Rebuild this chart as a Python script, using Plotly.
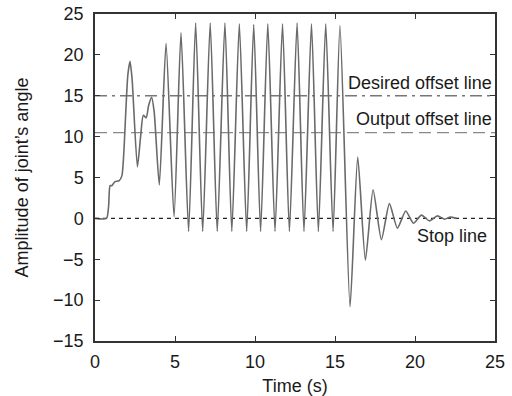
import plotly.graph_objects as go

# Signal (time in s, amplitude)
time_s = [0.0, 0.72, 0.85, 0.94, 1.05, 1.25, 1.5, 1.68, 1.8, 2.05, 2.19, 2.32, 2.65,
          2.85, 3.02, 3.2, 3.35, 3.54, 3.7, 4.02, 4.44, 4.94, 5.375, 5.85,
          6.29, 6.73, 7.2, 7.64, 8.12, 8.55, 9.02, 9.48, 9.92, 10.35, 10.8, 11.25,
          11.72, 12.15, 12.63, 13.06, 13.53, 13.96, 14.42, 14.88, 15.31, 15.94,
          16.42, 16.9, 17.38, 17.9, 18.4, 18.9, 19.42, 19.9, 20.4, 20.9, 21.4,
          21.85, 22.2, 22.6]
amplitude = [0.0, 0.0, 1.5, 4.0, 4.0, 4.5, 4.6, 5.2, 8.0, 17.5, 19.2, 17.0, 6.3,
             10.0, 12.6, 12.3, 13.8, 14.8, 13.0, 4.1, 21.4, 0.2, 22.7, -1.6,
             23.9, -1.6, 23.9, -1.6, 23.9, -1.6, 23.8, -1.6, 23.7, -1.6, 23.8, -1.6,
             23.8, -1.6, 23.9, -1.6, 23.8, -1.6, 23.8, -1.6, 23.6, -10.8,
             7.5, -5.1, 3.5, -2.6, 1.8, -1.2, 0.9, -0.6, 0.4, -0.3, 0.3,
             -0.1, 0.15, 0.0]

x_ticks = [0, 5, 10, 15, 20, 25]
y_ticks = [-15, -10, -5, 0, 5, 10, 15, 20, 25]
y_tick_text = ["\u221215", "\u221210", "\u22125", "0", "5", "10", "15", "20", "25"]

desired_offset = 15.0
output_offset = 10.5
stop_level = 0.0
x_range = [0, 25]
y_range = [-15, 25]

fig = go.Figure()

fig.add_trace(go.Scatter(x=x_range, y=[desired_offset] * 2, mode="lines",
                         line=dict(color="#777777", width=1.3, dash="12px,5px,3px,5px"),
                         hoverinfo="skip", showlegend=False))
fig.add_trace(go.Scatter(x=x_range, y=[output_offset] * 2, mode="lines",
                         line=dict(color="#888888", width=1.3, dash="12px,6px"),
                         hoverinfo="skip", showlegend=False))
fig.add_trace(go.Scatter(x=x_range, y=[stop_level] * 2, mode="lines",
                         line=dict(color="#222222", width=1.3, dash="4px,4px"),
                         hoverinfo="skip", showlegend=False))
fig.add_trace(go.Scatter(x=time_s, y=amplitude, mode="lines",
                         line=dict(color="#6a6a6a", width=1.6, shape="spline", smoothing=0.6),
                         showlegend=False))

font_main = dict(family="Liberation Sans, Arial, sans-serif", size=18, color="#1a1a1a")

fig.add_annotation(x=24.95, y=desired_offset, text="Desired offset line", showarrow=False,
                   xanchor="right", yanchor="bottom", yshift=1, font=font_main)
fig.add_annotation(x=24.95, y=output_offset, text="Output offset line", showarrow=False,
                   xanchor="right", yanchor="bottom", yshift=2, font=font_main)
fig.add_annotation(x=24.6, y=stop_level, text="Stop line", showarrow=False,
                   xanchor="right", yanchor="top", yshift=-6, font=font_main)

axis_common = dict(showgrid=False, zeroline=False, showline=True, linecolor="#333333",
                   linewidth=1.5, mirror="ticks", ticks="inside", ticklen=5,
                   tickcolor="#333333", tickwidth=1.3, tickfont=font_main, automargin=False)

fig.update_layout(
    width=512, height=396,
    margin=dict(l=95, r=17, t=14, b=55),
    paper_bgcolor="white", plot_bgcolor="white",
    font=font_main,
    xaxis=dict(range=x_range, tickvals=x_ticks, ticklabelstandoff=4,
               title=dict(text="Time (s)", font=font_main), **axis_common),
    yaxis=dict(range=y_range, tickvals=y_ticks, ticktext=y_tick_text, ticklabelstandoff=6,
               title=dict(text="Amplitude of joint\u2019s angle", font=font_main, standoff=20),
               **axis_common),
)

fig.write_html("out.html")
